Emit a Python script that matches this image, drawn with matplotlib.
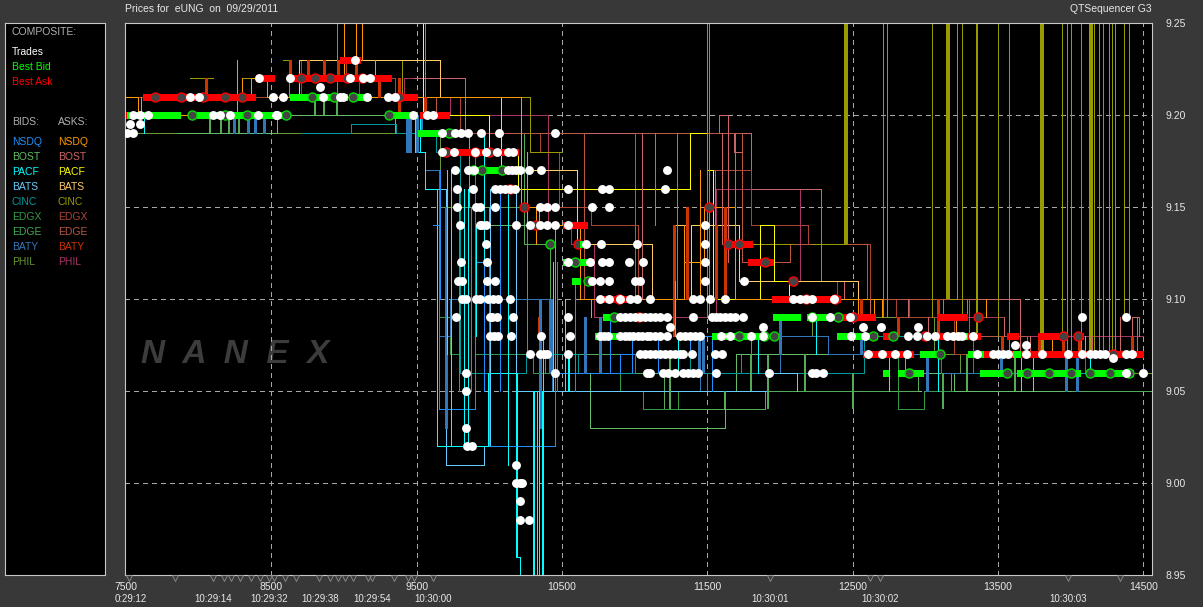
import matplotlib
matplotlib.use("Agg")
import matplotlib.pyplot as plt
import numpy as np

nan = np.nan
OFF = 9.30  # quotes above the visible range

# x axis / y axis
seq_ticks = [7500, 8500, 9500, 10500, 11500, 12500, 13500, 14500]
price_ticks = [8.95, 9.00, 9.05, 9.10, 9.15, 9.20, 9.25]
time_seq = [7530, 8099, 8485, 8835, 9193, 9612, 11931, 12688, 13981]
time_lbl = ["0:29:12", "10:29:14", "10:29:32", "10:29:38", "10:29:54", "10:30:00",
            "10:30:01", "10:30:02", "10:30:03"]
sec_marks = [7520, 7837, 8099, 8175, 8220, 8285, 8360, 8420, 8485, 8520, 8595, 8670,
             8830, 8900, 8955, 9005, 9060, 9165, 9195, 9345, 9440, 9480, 9612,
             11931, 12619, 12688, 13981, 14339]

# trades, one list per price level
trade_prices = [9.23, 9.22, 9.215, 9.21, 9.20, 9.195, 9.19, 9.18, 9.17, 9.16, 9.15, 9.14,
                9.13, 9.12, 9.11, 9.10, 9.09, 9.085, 9.08, 9.07, 9.075, 9.068, 9.06,
                9.05, 9.03, 9.02, 9.01, 9.00, 8.99, 8.98]
trade_seqs = [
    [9075],
    [8415, 8628, 9041, 9130, 9179],
    [8835],
    [7940, 8002, 8511, 8580, 8855, 8972, 8993, 9158, 9302, 9350],
    [7548, 7596, 7651, 8099, 8147, 8216, 8408, 8532, 8539, 9475, 9571, 9612],
    [7528, 7596],
    [7507, 7548, 9674, 9763, 9805, 9853, 9942, 10066, 10451],
    [9674, 9756, 9901, 9977, 10052, 10128, 10162],
    [9763, 9853, 9894, 10128, 10155, 10183, 10211, 10273, 10355, 11222],
    [9777, 9887, 10039, 10073, 10107, 10142, 10176, 10541, 10775, 10823, 11208],
    [9777, 9908, 9936, 10039, 10348, 10396, 10451, 10706, 10823],
    [9798, 9936, 9949, 9977, 10183, 10280, 10348, 10396, 10451, 10541, 11484],
    [9977, 10665, 10768, 11016, 11484],
    [9805, 9984, 10541, 10692, 10775, 10823, 10961, 11057, 11484],
    [9784, 9812, 9984, 10039, 10706, 10761, 10823, 11002, 11036, 11484, 11752],
    [9812, 9839, 9908, 9936, 9991, 10025, 10059, 10142, 10761, 10823, 10899, 10968, 11016,
     11105, 11401, 11449, 11518, 11621, 12089, 12137, 12178, 12220, 12371],
    [9770, 10004, 10018, 10052, 10162, 10541, 10899, 10933, 10968, 11002, 11036, 11071, 11105,
     11140, 11174, 11222, 11401, 11532, 11559, 11587, 11621, 11656, 11690, 11745, 12220, 12344,
     12481, 14077, 14380],
    [11243, 11883, 12571, 12694, 12949],
    [10004, 10032, 10059, 10149, 10355, 10555, 10761, 10789, 10816, 10899, 10930, 10960, 10990,
     11020, 11050, 11085, 11105, 11140, 11175, 11222, 11312, 11346, 11380, 11415, 11449, 11594,
     11656, 11800, 11883, 12488, 12584, 12880, 12942, 13011, 13066, 13148, 13190, 13224, 13252,
     13327],
    [10280, 10348, 10376, 10396, 10541, 11036, 11071, 11105, 11140, 11174, 11208, 11243, 11277,
     11312, 11332, 11394, 11552, 11600, 12605, 12701, 12791, 12873, 13355, 13465, 13500, 13534,
     13568, 13692, 13802, 13981, 14077, 14132, 14167, 14201, 14236, 14380, 14421],
    [13616, 13692],
    [14290],
    [9839, 10451, 11085, 11105, 11194, 11229, 11277, 11332, 11367, 11401, 11435, 11559, 11924,
     12220, 12247, 12295, 14380, 14497],
    [9839], [9839], [9846, 9880], [10183], [10183, 10211, 10225], [10211], [10211, 10273],
]

# best ask runs: start, end, price
ask_run_start = [7500, 7617, 8395, 8628, 8972, 9296, 9523, 9708, 10330, 10507, 10747, 10851, 11105, 11300,
                 11635, 11780, 11945, 12412, 13080, 12708, 12571, 13063, 13169, 13561, 13774, 14029, 13307]
ask_run_end = [7530, 8390, 8515, 9320, 9110, 9500, 9720, 10200, 10420, 10672, 10988, 11036, 11332, 11449,
               11807, 11951, 12412, 12653, 13285, 12777, 12915, 13200, 13376, 13637, 13912, 14084, 14497]
ask_run_price = [9.20, 9.21, 9.22, 9.22, 9.23, 9.21, 9.20, 9.18, 9.15, 9.14, 9.10, 9.09, 9.07, 9.08,
                 9.13, 9.12, 9.10, 9.09, 9.09, 9.08, 9.07, 9.08, 9.08, 9.08, 9.08, 9.08, 9.07]
ask_ring_seq = [7700, 7880, 8030, 8180, 8300, 8700, 8800, 8900, 9020, 9120, 9380, 9700, 9900, 10000, 10140, 10240,
                10320, 10610, 10890, 11030, 11510, 11640, 11720, 11900, 12090, 12180, 12380, 12500,
                13000, 13360, 13950, 14050, 14290]
ask_ring_price = [9.21, 9.21, 9.21, 9.21, 9.21, 9.22, 9.22, 9.22, 9.22, 9.22, 9.21, 9.18, 9.18, 9.18, 9.16, 9.15,
                  9.14, 9.13, 9.10, 9.09, 9.15, 9.13, 9.13, 9.12, 9.11, 9.10, 9.10, 9.09, 9.08,
                  9.09, 9.08, 9.08, 9.07]

# best bid runs
bid_run_start = [7507, 7988, 8628, 9075, 9296, 9510, 9915, 10624, 10507, 10568, 10782, 10727, 11951, 12185,
                 11532, 12392, 12963, 12708, 12811, 12894, 13293, 13603, 13376, 13630, 13878, 14119, 13169]
bid_run_end = [7872, 8594, 9020, 9179, 9502, 9708, 10094, 10672, 10713, 10624, 10947, 10878, 12137, 12322,
               11883, 12667, 13080, 12743, 12860, 12983, 13397, 13651, 13561, 13836, 14064, 14428, 13285]
bid_run_price = [9.20, 9.20, 9.21, 9.21, 9.20, 9.19, 9.17, 9.13, 9.12, 9.11, 9.09, 9.08, 9.09, 9.09,
                 9.08, 9.08, 9.07, 9.06, 9.06, 9.06, 9.07, 9.07, 9.06, 9.06, 9.06, 9.06, 9.08]
bid_ring_seq = [7950, 8180, 8330, 8600, 8780, 8930, 9060, 9310, 9720, 9890, 9950, 10090, 10420, 10590,
                10680, 10860, 11720, 11890, 11960, 12220, 12400, 12640, 12780, 12890, 13100, 13560,
                13700, 13850, 14000, 14130, 14270, 14400]
bid_ring_price = [9.20, 9.20, 9.20, 9.20, 9.21, 9.21, 9.21, 9.20, 9.19, 9.17, 9.17, 9.17, 9.13, 9.12,
                  9.11, 9.09, 9.08, 9.08, 9.08, 9.09, 9.09, 9.08, 9.08, 9.06, 9.07, 9.06, 9.06, 9.06,
                  9.06, 9.06, 9.06, 9.06]

# quote steps per exchange
phil_bid_x = [7540, 7890, 8010, 9660, 10260, 10380, 11800, 12220, 13060, 13240, 14560]
phil_bid_y = [9.19, nan, 9.19, 9.15, 9.07, 9.06, 9.08, 9.09, 9.07, 9.06, 9.06]
edge_bid_x = [9950, 10240, 10420, 10940, 11000, 11200, 11900, 12950, 13180, 13540, 14560]
edge_bid_y = [9.19, 9.13, 9.07, 9.07, 9.06, 9.04, 9.05, 9.06, 9.05, 9.05, 9.05]
edgx_bid_x = [9650, 9730, 9800, 9900, 10300, 10900, 11060, 11300, 11500, 11730, 12650, 12810, 12990, 13340, 13900]
edgx_bid_y = [9.09, 9.07, 9.18, 9.07, 9.06, 9.05, 9.04, 9.05, 9.06, 9.07, 9.07, 9.04, 9.05, 9.05, 9.05]
bost_bid_x = [7860, 8540, 9350, 9860, 10000, 10450, 10692, 11621, 11700, 12330, 12860, 13200, 14000]
bost_bid_y = [9.19, 9.20, 9.19, 9.15, 9.14, 9.06, 9.03, 9.05, 9.07, 9.07, 9.06, 9.05, 9.05]
baty_bid_x = [9560, 9650, 9730, 10040, 10300, 10430, 10800, 11450, 12000, 12330, 12700, 13110, 13500]
baty_bid_y = [9.17, 9.08, 9.10, 9.10, 9.10, 9.05, 9.05, 9.06, 9.08, 9.07, 9.07, 9.06, 9.06]
cinc_bid_x = [8700, 9050, 9360, 9630, 9800, 10250, 10610, 11000, 11380, 11900, 12460, 12580, 13330, 13700, 14100]
cinc_bid_y = [9.19, 9.195, 9.19, 9.18, 9.06, 9.07, 9.06, 9.07, 9.06, 9.06, 9.06, 9.08, 9.06, 9.06, 9.07]
bats_bid_x = [9590, 9700, 9960, 10005, 10180, 10570, 11160, 11920, 12120]
bats_bid_y = [9.16, 9.01, 9.02, 9.16, 9.05, 9.05, 9.05, 9.06, 9.05]
pacf_bid_x = [9500, 9560, 9640, 9990, 10180, 10210, 10290, 10300, 10330, 10420]
pacf_bid_y = [9.18, 9.16, 9.02, 9.06, 8.96, 8.95, 8.92, 9.05, 8.92, nan]
nsdq_bid_x = [9610, 9650, 9900, 10000, 10450, 10900, 11380, 11530]
nsdq_bid_y = [9.14, 9.04, 9.12, 9.02, 9.06, 9.07, 9.08, 9.05]

phil_ask_x = [8930, 9100, 9410, 9560, 9730, 10270, 10400, 10560, 10720, 11240, 11560, 12140, 12390, 12600, 12890,
              13030, 13540, 13980, 14500]
phil_ask_y = [9.22, 9.21, 9.22, 9.21, 9.20, 9.20, 9.14, 9.13, 9.09, 9.09, 9.16, 9.11, 9.10, 9.10, 9.09,
              9.09, 9.08, 9.08, 9.08]
bost_ask_x = [9480, 9830, 10270, 10700, 11500, 11580, 11640, 11680, 11740, 11800, 12280, 12440, 12620,
              13130, 13650, 14200, 14420, 14470]
bost_ask_y = [9.22, 9.19, 9.19, 9.19, 9.19, 9.20, 9.19, 9.18, 9.19, 9.16, 9.11, 9.10, 9.10, 9.10, 9.07, 9.07, 9.09, 9.08]
edgx_ask_x = [7500, 8260, 8700, 9010, 9350, 9660, 9800, 10350, 10480, 10700, 11020, 11380, 11500, 11800, 12190,
              12620, 12800, 13200, 13700]
edgx_ask_y = [9.21, 9.21, 9.23, 9.22, 9.21, 9.21, 9.19, 9.18, 9.15, 9.14, 9.10, 9.10, 9.17, 9.14, 9.13, 9.10, 9.09, 9.07, 9.07]
edge_ask_x = [9350, 9480, 9630, 10000, 10650, 10960, 11000, 11740, 12070, 12600, 13300, 13700, 14200]
edge_ask_y = [9.21, 9.21, 9.20, 9.19, 9.10, 9.10, 9.19, 9.12, 9.13, 9.10, 9.08, 9.07, 9.07]
cinc_ask_x = [7500, 7940, 8100, 8300, 8480, 8580, 8620, 8900, 9250, 9400, 9660, 9800, 10280, 10500,
              11807, 12082, 12212, 12454, 13169, 13217]
cinc_ask_y = [nan, 9.22, nan, 9.22, nan, 9.23, 9.21, nan, 9.23, 9.21, 9.21, 9.21, 9.18, nan,
              9.13, nan, 9.13, nan, 9.10, nan]
bats_ask_x = [8640, 8690, 9660, 10080, 10120, 10440, 10600, 11120, 11280, 11350, 11390, 11720, 12540]
bats_ask_y = [9.21, 9.23, 9.21, 9.17, 9.17, 9.17, 9.13, 9.10, 9.14, 9.10, 9.14, 9.11, 9.10]
pacf_ask_x = [9510, 9545, 10000, 10200, 10560, 11380, 11500, 11540, 11860, 11960, 12060]
pacf_ask_y = [9.30, 9.20, 9.18, 9.16, 9.16, 9.19, 9.17, 9.10, 9.14, 9.11, 9.10]
nsdq_ask_x = [7500, 7580, 8260, 8360, 8470, 10220, 10340, 10620, 11340, 11480, 11690, 12580, 12700]
nsdq_ask_y = [9.21, 9.20, 9.21, 9.22, 9.21, 9.15, 9.14, 9.10, 9.12, 9.15, 9.10, 9.10, 9.09]

# quotes that only flick away for one update: seq, low, high
ask_spike_cinc_x = [11497, 11511, 12454, 12708, 12736, 13045, 13155, 13217, 13252, 13348, 13355, 13500, 13575,
                    13802, 13940, 13974, 14002, 14070, 14139, 14160, 14194, 14221, 14263, 14283, 14304, 14366, 14400]
ask_spike_cinc_lo = [9.09, 9.09, 9.13, 9.09, 9.09, 9.09, 9.10, 9.10, 9.09, 9.08, 9.08, 9.08, 9.07,
                     9.07, 9.07, 9.07, 9.07, 9.07, 9.07, 9.07, 9.07, 9.07, 9.07, 9.07, 9.07, 9.09, 9.09]
ask_spike_cinc_w = [1, 1, 3, 1, 1, 1, 3, 1, 1, 1, 1, 1, 1,
                    3, 1, 1, 1, 1, 3, 1, 1, 1, 1, 1, 1, 1, 1]
ask_spike_bost_x = [8950, 9560, 11050, 11140, 11290, 11550, 11600, 11640, 11690, 12620, 12880, 13020, 13120,
                    13290, 13540, 13720, 13940, 14150, 14340, 14460]
ask_spike_bost_lo = [9.21, 9.21, 9.10, 9.14, 9.10, 9.11, 9.13, 9.12, 9.15, 9.09, 9.09, 9.08, 9.09, 9.09,
                     9.08, 9.07, 9.07, 9.07, 9.07, 9.07]
ask_spike_bost_hi = [9.30, 9.30, 9.19, 9.19, 9.19, 9.17, 9.19, 9.19, 9.19, 9.10, 9.10, 9.09, 9.10, 9.10,
                     9.09, 9.08, 9.08, 9.08, 9.09, 9.09]
ask_spike_baty_x = [8050, 8630, 8750, 8860, 8960, 9080, 9240, 9380, 9560, 10340, 11270, 11360, 11560, 11620,
                    12560, 12810, 13090, 13530, 13780, 13950, 14060, 14420]
ask_spike_baty_lo = [9.21, 9.22, 9.22, 9.22, 9.22, 9.22, 9.21, 9.20, 9.20, 9.08, 9.08, 9.10, 9.10, 9.10,
                     9.09, 9.08, 9.08, 9.07, 9.07, 9.07, 9.07, 9.07]
ask_spike_baty_hi = [9.22, 9.23, 9.23, 9.23, 9.23, 9.23, 9.22, 9.22, 9.21, 9.09, 9.14, 9.15, 9.14, 9.15,
                     9.10, 9.09, 9.10, 9.08, 9.08, 9.08, 9.08, 9.08]
ask_spike_orange_x = [7600, 8260, 8300, 9000, 9080, 9210, 9120, 10260, 10320, 10700, 11280, 11340, 11450, 12540, 12650,
                      13210, 13420, 13870, 14100]
ask_spike_orange_lo = [9.20, 9.21, 9.21, 9.22, 9.23, 9.22, 9.23, 9.14, 9.13, 9.09, 9.08, 9.11, 9.10, 9.09, 9.09,
                       9.08, 9.09, 9.07, 9.07]
ask_spike_orange_hi = [9.21, 9.23, 9.22, 9.30, 9.30, 9.23, 9.30, 9.18, 9.15, 9.10, 9.11, 9.14, 9.17, 9.10, 9.10,
                       9.09, 9.10, 9.08, 9.08]
bid_spike_blue_x = [8240, 8340, 8390, 8450, 9430, 9450, 9500, 9530, 9700, 10350, 10420, 10660, 10760, 11440, 11470,
                    12000, 12560, 13010, 13520, 13970, 14045]
bid_spike_blue_lo = [9.19, 9.19, 9.19, 9.19, 9.18, 9.18, 9.18, 9.19, 9.03, 9.03, 9.06, 9.06, 9.06, 9.06, 9.06,
                     9.07, 9.07, 9.05, 9.06, 9.05, 9.05]
bid_spike_blue_hi = [9.20, 9.20, 9.20, 9.20, 9.20, 9.20, 9.20, 9.20, 9.15, 9.10, 9.10, 9.09, 9.09, 9.08, 9.08,
                     9.09, 9.08, 9.07, 9.07, 9.07, 9.07]
bid_spike_cyan_x = [7620, 9490, 9520, 9709, 9736, 9826, 9853, 9908, 9960, 10130, 10190, 10300, 10307, 10341, 10362, 10369,
                    10370, 10440, 10520, 10541, 10548, 11300, 11850, 12250, 12750, 13090, 13660, 13740, 14130]
bid_spike_cyan_lo = [9.19, 9.18, 9.18, 9.07, 9.02, 9.02, 9.02, 9.08, 9.12, 9.01, 8.96, 8.95, 8.95, 8.95, 8.95, 8.95,
                     9.03, 9.05, 9.05, 9.05, 9.05, 9.06, 9.06, 9.07, 9.05, 9.05, 9.05, 9.05, 9.06]
bid_spike_cyan_hi = [9.20, 9.20, 9.20, 9.17, 9.17, 9.16, 9.16, 9.14, 9.19, 9.16, 9.06, 9.05, 9.05, 9.05, 9.05, 9.05,
                     9.08, 9.12, 9.10, 9.07, 9.07, 9.08, 9.08, 9.09, 9.07, 9.08, 9.07, 9.07, 9.07]
bid_spike_nsdq_x = [9660, 9791, 9874, 9963, 10073, 10128, 10465, 10520, 10589, 10830, 10980, 11160]
bid_spike_nsdq_lo = [9.10, 9.05, 9.05, 9.05, 9.05, 9.07, 9.05, 9.05, 9.05, 9.06, 9.06, 9.06]
bid_spike_nsdq_hi = [9.17, 9.16, 9.15, 9.13, 9.16, 9.15, 9.12, 9.10, 9.11, 9.09, 9.08, 9.08]
bid_spike_green_x = [8080, 8150, 8210, 8280, 8800, 8860, 8950, 11240, 11620, 11800, 11920, 12170, 12500, 13120, 13290,
                     13620]
bid_spike_green_lo = [9.19, 9.19, 9.19, 9.19, 9.20, 9.20, 9.20, 9.04, 9.05, 9.05, 9.04, 9.05, 9.04, 9.04, 9.05, 9.05]
bid_spike_green_hi = [9.20, 9.20, 9.20, 9.20, 9.21, 9.21, 9.21, 9.07, 9.04, 9.07, 9.07, 9.07, 9.06, 9.06, 9.07, 9.07]

bg = "#383838"
grid_col = "#a8a8a8"
txt = "#e8e8e8"
plt.rcParams["font.family"] = ["Liberation Sans", "DejaVu Sans"]
plt.rcParams["lines.antialiased"] = False

W, H = 1203, 607
fig = plt.figure(figsize=(W / 100, H / 100), dpi=100, facecolor=bg)
ax = fig.add_axes([125 / W, (H - 575) / H, (1152 - 125) / W, (575 - 23) / H], facecolor="black")
ax.set_xlim(7492, 14560)
ax.set_ylim(8.95, 9.25)

for p in price_ticks[1:-1]:
    ax.axhline(p, color=grid_col, lw=0.6, dashes=(5, 5), zorder=1)
for s in seq_ticks[1:]:
    ax.axvline(s, color=grid_col, lw=0.6, dashes=(5, 5), zorder=1)

def quote(x, y, col, lw=0.72):
    ax.step(x, y, where="post", color=col, lw=lw, zorder=2)

quote(phil_bid_x, phil_bid_y, "#669933")
quote(edge_bid_x, edge_bid_y, "#55aa55")
quote(edgx_bid_x, edgx_bid_y, "#339944")
quote(bost_bid_x, bost_bid_y, "#66bb66")
quote(baty_bid_x, baty_bid_y, "#3377bb")
quote(cinc_bid_x, cinc_bid_y, "#009999")
quote(bats_bid_x, bats_bid_y, "#66ccff")
quote(pacf_bid_x, pacf_bid_y, "#00ffff")
quote(nsdq_bid_x, nsdq_bid_y, "#1e90ff")
quote(phil_ask_x, phil_ask_y, "#aa3366")
quote(bost_ask_x, bost_ask_y, "#cc6666")
quote(edgx_ask_x, edgx_ask_y, "#aa4433")
quote(edge_ask_x, edge_ask_y, "#bb5544")
quote(cinc_ask_x, cinc_ask_y, "#999900")
quote(bats_ask_x, bats_ask_y, "#ffcc66")
quote(pacf_ask_x, pacf_ask_y, "#ffff00")
quote(nsdq_ask_x, nsdq_ask_y, "#ff9900")

ax.vlines(ask_spike_cinc_x, ask_spike_cinc_lo, OFF, color="#999900",
          lw=[w * 0.6 for w in ask_spike_cinc_w], zorder=2, antialiased=False)
ax.vlines(ask_spike_bost_x, ask_spike_bost_lo, ask_spike_bost_hi, color="#cc6666", lw=0.72, zorder=2, antialiased=False)
ax.vlines(ask_spike_baty_x, ask_spike_baty_lo, ask_spike_baty_hi, color="#cc3300", lw=2, zorder=2, antialiased=False)
ax.vlines(ask_spike_orange_x, ask_spike_orange_lo, ask_spike_orange_hi, color="#ff9900", lw=0.72, zorder=2, antialiased=False)
ax.vlines(bid_spike_blue_x, bid_spike_blue_lo, bid_spike_blue_hi, color="#3377bb", lw=2, zorder=2, antialiased=False)
ax.vlines(bid_spike_nsdq_x, bid_spike_nsdq_lo, bid_spike_nsdq_hi, color="#1e90ff", lw=0.72, zorder=2, antialiased=False)
ax.vlines(bid_spike_cyan_x, bid_spike_cyan_lo, bid_spike_cyan_hi, color="#00ffff", lw=0.72, zorder=2, antialiased=False)
ax.vlines(bid_spike_green_x, bid_spike_green_lo, bid_spike_green_hi, color="#55aa55", lw=1.1, zorder=2, antialiased=False)

# composite bid / ask
ax.hlines(ask_run_price, ask_run_start, ask_run_end, color="#ff0000", lw=5, zorder=3, antialiased=False)
ax.plot(ask_ring_seq, ask_ring_price, "o", ms=6.5, mfc="#444444", mec="#ff0000", mew=1, zorder=3)
ax.hlines(bid_run_price, bid_run_start, bid_run_end, color="#00ff00", lw=5, zorder=3, antialiased=False)
ax.plot(bid_ring_seq, bid_ring_price, "o", ms=6.5, mfc="#444444", mec="#00dd00", mew=1, zorder=3)

# trades
for p, s in zip(trade_prices, trade_seqs):
    ax.plot(s, [p] * len(s), "o", ms=6.4, mfc="white", mec="white", mew=0, zorder=4)

ax.text(0.016, 0.40, "N  A  N  E  X", transform=ax.transAxes, color="#3c3c3c", fontsize=24,
        style="italic", fontweight="bold", va="center", zorder=0)

ax.xaxis.set_ticks(seq_ticks)
ax.yaxis.set_ticks(price_ticks)
ax.yaxis.tick_right()
ax.tick_params(length=0, labelcolor=txt, labelsize=7.5, pad=10)
ax.tick_params(axis="x", pad=5)
ax.set_xticklabels([str(s) for s in seq_ticks])
ax.set_yticklabels(["%.2f" % p for p in price_ticks])
for sp in ax.spines.values():
    sp.set_color("#c8c8c8")
    sp.set_linewidth(0.8)

# second markers under the axis
mark_tf = ax.get_xaxis_transform()
ax.plot(sec_marks, [-0.006] * len(sec_marks), "v", ms=4.5, mfc="none", mec="#909090", mew=0.6,
        transform=mark_tf, clip_on=False, zorder=5)
for s, l in zip(time_seq, time_lbl):
    ax.text(s, -0.0435, l, transform=mark_tf, color=txt, fontsize=7, ha="center", va="center", clip_on=False)

fig.text(125 / W, (H - 9) / H, "Prices for  eUNG  on  09/29/2011", color=txt, fontsize=7.5, va="center")
fig.text(1152 / W, (H - 9) / H, "QTSequencer G3", color=txt, fontsize=7.5, va="center", ha="right")

# legend panel
leg = fig.add_axes([5 / W, (H - 575) / H, 100 / W, (575 - 23) / H], facecolor="black")
leg.set_xlim(5, 105)
leg.set_ylim(575, 23)
leg.set_xticks([])
leg.set_yticks([])
for sp in leg.spines.values():
    sp.set_color("#c8c8c8")
    sp.set_linewidth(0.8)
leg_names = ["NSDQ", "BOST", "PACF", "BATS", "CINC", "EDGX", "EDGE", "BATY", "PHIL"]
leg_bid_cols = ["#1e90ff", "#66bb66", "#00ffff", "#66ccff", "#009999", "#339944", "#44aa55", "#3377bb", "#669933"]
leg_ask_cols = ["#ff9900", "#cc6666", "#ffff00", "#ffcc66", "#999900", "#aa4433", "#bb5544", "#cc3300", "#aa3366"]
leg.text(12, 32, "COMPOSITE:", color="#b0b0b0", fontsize=7.5, va="center")
leg.text(12, 52, "Trades", color="white", fontsize=7.5, va="center")
leg.text(12, 67, "Best Bid", color="#00ff00", fontsize=7.5, va="center")
leg.text(12, 82, "Best Ask", color="#ff0000", fontsize=7.5, va="center")
leg.text(12, 122, "BIDS:", color="#b0b0b0", fontsize=7.5, va="center")
leg.text(58, 122, "ASKS:", color="#b0b0b0", fontsize=7.5, va="center")
for i, n in enumerate(leg_names):
    y = 142 + i * 15
    leg.text(12, y, n, color=leg_bid_cols[i], fontsize=7.5, va="center")
    leg.text(58, y, n, color=leg_ask_cols[i], fontsize=7.5, va="center")

fig.savefig("out.png", dpi=100, facecolor=bg)
